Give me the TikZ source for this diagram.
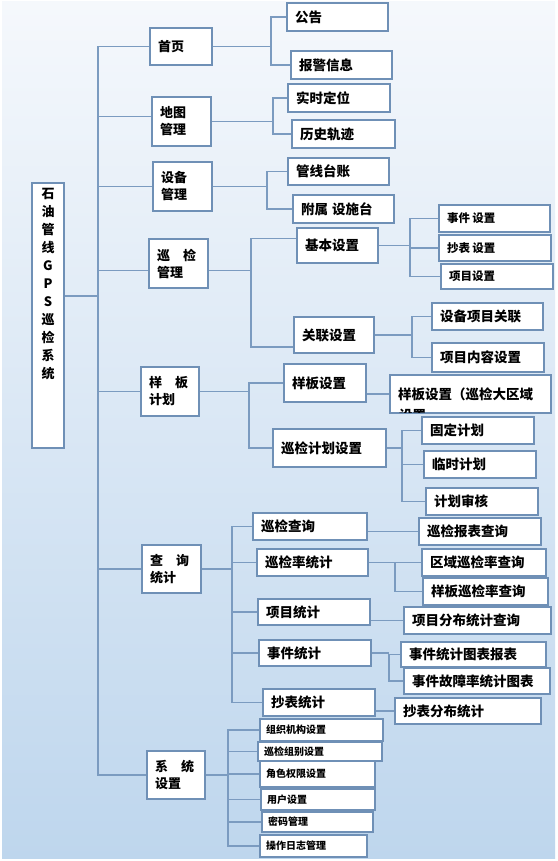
\documentclass[tikz,border=0pt]{standalone}
\usepackage{fontspec}
\setmainfont{Noto Sans CJK SC}
\usepackage{xcolor}
\definecolor{frameLine}{HTML}{6F90B6}
\definecolor{linkLine} {HTML}{7B9BC0}
\definecolor{bgTop}    {HTML}{F5F8FC}
\definecolor{bgBottom} {HTML}{BED6ED}
\usetikzlibrary{positioning, calc}
\tikzset{
    menu/.style={draw=frameLine, fill=white, line width=1.4pt, inner xsep=8pt,
                 inner ysep=0pt, align=left,
                 font=\bfseries\fontsize{13.5}{17}\selectfont},
    topmenu/.style={menu, font=\bfseries\fontsize{13}{17}\selectfont},
    submenu/.style={menu, font=\bfseries\fontsize{11.5}{14}\selectfont},
    sysmenu/.style={menu, inner xsep=6pt, font=\bfseries\fontsize{10}{12}\selectfont},
    link/.style={-, draw=linkLine, line width=1.4pt},
}

\begin{document}
\begin{tikzpicture}[x=1pt, y=-1pt]
    \useasboundingbox (0,0) rectangle (557,861);
    \fill[white] (0,0) rectangle (557,861);
    \shade[top color=bgTop, bottom color=bgBottom] (2,2) rectangle (555,858);

    % root
    \node[topmenu, inner ysep=5pt] (root) at (48,315.5)
        {\parbox[c][255pt][t]{16pt}{\centering\baselineskip=18pt
         石\\油\\管\\线\\G\\P\\S\\巡\\检\\系\\统}};

    % level 1
    \node[topmenu, text width=46pt, minimum height=37pt] (home)      at (181,46.5)   {首页};
    \node[topmenu, text width=43pt, minimum height=49pt] (mapmgr)    at (181.5,121.5) {地图\\管理};
    \node[topmenu, text width=43pt, minimum height=49pt] (devmgr)    at (182.5,186.5) {设备\\管理};
    \node[topmenu, text width=43pt, minimum height=49pt] (inspmgr)   at (178.5,263.5) {巡\hspace{1em}检\\管理};
    \node[topmenu, text width=42pt, minimum height=49pt] (tmplplan)  at (170,391.5)  {样\hspace{1em}板\\计划};
    \node[topmenu, text width=43pt, minimum height=48pt] (querystat) at (171.5,569)  {查\hspace{1em}询\\统计};
    \node[topmenu, text width=42pt, minimum height=48pt] (sysset)    at (176,775)    {系\hspace{1em}统\\设置};

    % level 2
    \node[menu, text width=85pt, minimum height=28pt] (notice)   at (337.5,17)   {公告};
    \node[menu, text width=85pt, minimum height=28pt] (alarm)    at (341.5,65)   {报警信息};
    \node[menu, text width=86pt, minimum height=28pt] (locate)   at (339,98)     {实时定位};
    \node[menu, text width=87pt, minimum height=28pt] (track)    at (343.5,134)  {历史轨迹};
    \node[menu, text width=85pt, minimum height=27pt] (ledger)   at (338.5,171.5) {管线台账};
    \node[menu, text width=85pt, minimum height=28pt] (facility) at (343.5,209)  {附属\hspace{0.3em}设施台};
    \node[menu, text width=65pt, minimum height=35pt] (basic)    at (337.5,245.5) {基本设置};
    \node[menu, text width=64pt, minimum height=36pt] (assoc)    at (334,335)    {关联设置};
    \node[menu, text width=66pt, minimum height=38pt] (tmplset)  at (325,383)    {样板设置};
    \node[menu, text width=145pt, minimum height=38pt] (region)  at (470.5,394)  {样板设置（巡检大区域};
    \node[menu, text width=97pt, minimum height=38pt] (plan)     at (329.5,448)  {巡检计划设置};

    % level 3
    \node[submenu, text width=95pt, minimum height=27pt] (eventset) at (494.5,218.5) {事件\hspace{0.2em}设置};
    \node[submenu, text width=96pt, minimum height=26pt] (meterset) at (495,248)     {抄表\hspace{0.2em}设置};
    \node[submenu, text width=96pt, minimum height=25pt] (itemset)  at (497,276.5)   {项目设置};
    \node[menu, text width=95pt, minimum height=27pt] (devitem)  at (487.5,316.5) {设备项目关联};
    \node[menu, text width=96pt, minimum height=29pt] (itemcont) at (488,357.5)   {项目内容设置};
    \node[menu, text width=96pt, minimum height=27pt] (fixed)    at (478,430.5)   {固定计划};
    \node[menu, text width=96pt, minimum height=27pt] (temp)     at (480,464.5)   {临时计划};
    \node[menu, text width=96pt, minimum height=27pt] (audit)    at (482,501.5)   {计划审核};

    % query and statistics
    \node[menu, text width=98pt, minimum height=27pt] (q1) at (310,526.5) {巡检查询};
    \node[menu, text width=95pt, minimum height=27pt] (q2) at (312.5,562.5) {巡检率统计};
    \node[menu, text width=96pt, minimum height=26pt] (q3) at (314,612) {项目统计};
    \node[menu, text width=96pt, minimum height=26pt] (q4) at (315,653) {事件统计};
    \node[menu, text width=96pt, minimum height=27pt] (q5) at (319,702.5) {抄表统计};
    \node[menu, text width=106pt, minimum height=27pt] (r1) at (480,531.5) {巡检报表查询};
    \node[menu, text width=108pt, minimum height=27pt] (r2) at (484,562.5) {区域巡检率查询};
    \node[menu, text width=109pt, minimum height=27pt] (r3) at (485.5,591.5) {样板巡检率查询};
    \node[menu, text width=131pt, minimum height=27pt] (r4) at (477.5,620.5) {项目分布统计查询};
    \node[menu, text width=129pt, minimum height=25pt] (r5) at (473.5,654.5) {事件统计图表报表};
    \node[menu, text width=130pt, minimum height=26pt] (r6) at (477,681) {事件故障率统计图表};
    \node[menu, text width=130pt, minimum height=26pt] (r7) at (468,711) {抄表分布统计};

    % system settings
    \node[sysmenu, text width=111pt, minimum height=22pt] (s1) at (321.5,730) {组织机构设置};
    \node[sysmenu, text width=112pt, minimum height=19pt] (s2) at (320,751.5) {巡检组别设置};
    \node[sysmenu, text width=103pt, minimum height=26pt] (s3) at (317.5,774) {角色权限设置};
    \node[sysmenu, text width=102pt, minimum height=21pt] (s4) at (318,799.5) {用户设置};
    \node[sysmenu, text width=99pt, minimum height=20pt]  (s5) at (317.5,822) {密码管理};
    \node[sysmenu, text width=95pt, minimum height=22pt]  (s6) at (313.5,846) {操作日志管理};

    % cut-off second line of the long box
    \begin{scope}
        \clip ([yshift=0.8pt]region.south west) rectangle (region.north east);
        \node[menu, draw=none, fill=none, inner sep=0pt, anchor=north west]
            (regionTail) at ($(region.west)+(9,14)$) {设置};
    \end{scope}

    % spines
    \coordinate (trunk)  at (98,0);
    \coordinate (jHome)  at (271,0);
    \coordinate (jMap)   at (273,0);
    \coordinate (jDev)   at (267,0);
    \coordinate (jInsp)  at (251,0);
    \coordinate (jBasic) at (410,0);
    \coordinate (jAssoc) at (412,0);
    \coordinate (jTmpl)  at (249,0);
    \coordinate (jPlan)  at (402,0);
    \coordinate (jQuery) at (232,0);
    \coordinate (jRate)  at (395,0);
    \coordinate (jEvent) at (389,0);
    \coordinate (jSys)   at (228,0);

    % root -> level 1
    \draw[link] (home.west) -| (trunk |- sysset.west) -- (sysset.west);
    \draw[link] ([yshift=19.5pt]root.east) -- ([yshift=19.5pt]root.east -| trunk);
    \foreach \n/\s in {mapmgr/5pt, devmgr/0pt, inspmgr/-7pt, tmplplan/0pt, querystat/0pt}
        \draw[link] ([yshift=\s]\n.west) -- ([yshift=\s]\n.west -| trunk);

    % brackets with two ends
    \foreach \p/\j/\a/\b in {home/jHome/notice/alarm, mapmgr/jMap/locate/track,
        devmgr/jDev/ledger/facility, basic/jBasic/eventset/itemset,
        assoc/jAssoc/devitem/itemcont, plan/jPlan/fixed/audit,
        q2/jRate/r2/r3, q4/jEvent/r5/r6, tmplplan/jTmpl/tmplset/plan,
        querystat/jQuery/q1/q5, sysset/jSys/s1/s6}{
        \draw[link] (\p.east) -- (\p.east -| \j);
        \draw[link] (\a.west) -| (\j |- \b.west) -- (\b.west);
    }
    \draw[link] ([yshift=-7pt]inspmgr.east) -- ([yshift=-7pt]inspmgr.east -| jInsp);
    \draw[link] ([yshift=7pt]basic.west) -| ([yshift=-12pt]jInsp |- assoc.west)
        -- ([yshift=-12pt]assoc.west);

    % middle stubs
    \foreach \n/\j in {meterset/jBasic, temp/jPlan, q2/jQuery, q3/jQuery, q4/jQuery,
        s2/jSys, s3/jSys, s4/jSys, s5/jSys}
        \draw[link] (\n.west) -- (\n.west -| \j);

    % single links
    \draw[link] (tmplset.east |- region.west) -- (region.west);
    \draw[link] (q1.east |- r1.west) -- (r1.west);
    \draw[link] (q3.east |- r4.west) -- (r4.west);
    \draw[link] (q5.east |- r7.west) -- (r7.west);
\end{tikzpicture}
\end{document}
